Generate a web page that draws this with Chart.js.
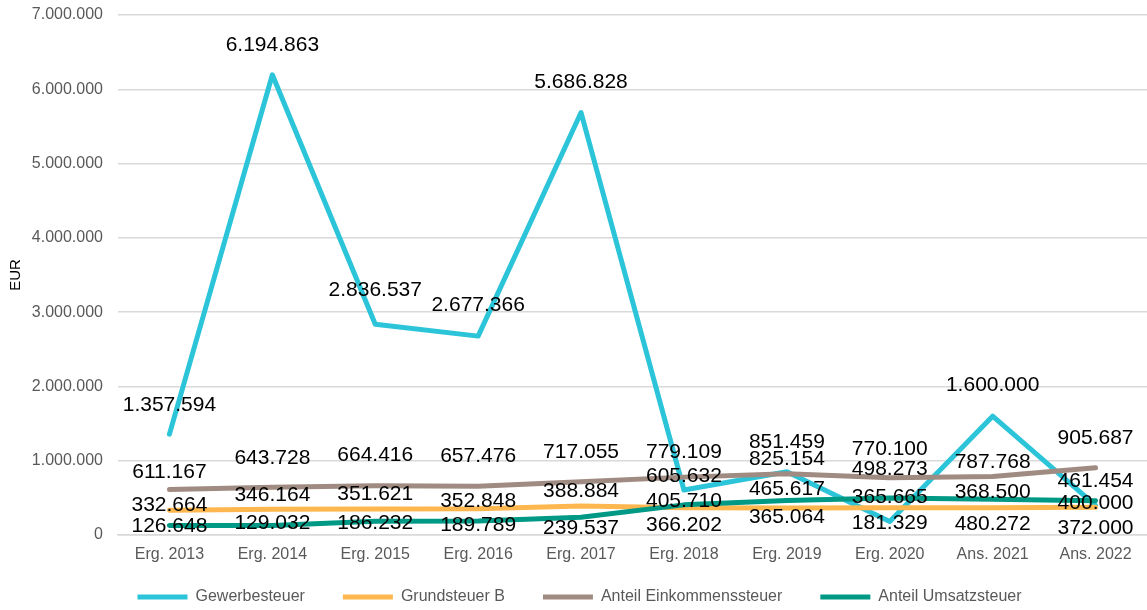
<!DOCTYPE html>
<html><head><meta charset="utf-8">
<script src="https://cdn.jsdelivr.net/npm/chart.js@4.4.0/dist/chart.umd.min.js"></script>
<style>html,body{margin:0;padding:0;background:#fff;overflow:hidden}#wrap{width:1147px;height:610px;position:relative}</style>
</head><body><div id="wrap"><canvas id="c"></canvas></div>
<script>
const categories = ['Erg. 2013','Erg. 2014','Erg. 2015','Erg. 2016','Erg. 2017','Erg. 2018','Erg. 2019','Erg. 2020','Ans. 2021','Ans. 2022'];
const gewerbesteuer   = [1357594, 6194863, 2836537, 2677366, 5686828, 605632, 851459, 181329, 1600000, 400000];
const grundsteuerB    = [332664, 346164, 351621, 352848, 388884, 366202, 365064, 365665, 368500, 372000];
const einkommensteuer = [611167, 643728, 664416, 657476, 717055, 779109, 825154, 770100, 787768, 905687];
const umsatzsteuer    = [126648, 129032, 186232, 189789, 239537, 405710, 465617, 498273, 480272, 461454];
const yTicks = [0, 1000000, 2000000, 3000000, 4000000, 5000000, 6000000, 7000000];

// label placement (pixel shift of each value label relative to its point)
const shiftGewerbe = [-29, -30, -34, -31, -30, -14, -30, 2, -31, -2];
const shiftGrund   = [-5, -14, -15, -8, -15, 17, 9, -11, -15, 21];
const shiftEink    = [-17, -29, -30, -30, -30, -25, -14, -29, -14, -30];
const shiftUmsatz  = [1, -2, 2, 4, 11, -4, -11, -29, 25, -20];

const fmt = v => String(Math.round(v)).replace(/\B(?=(\d{3})+(?!\d))/g, '.');
const FONT = '"Liberation Sans", Arial, sans-serif';
const LEGEND_PAD = 38;

const valueLabels = {
  id: 'valueLabels',
  afterLayout(chart) {
    const lg = chart.legend;
    if (lg) {
      const dy = (597 - LEGEND_PAD - 8) - lg.top;
      lg.top += dy; lg.bottom += dy;
      lg.left += 6; lg.right += 6;
    }
  },
  afterDatasetsDraw(chart) {
    const ctx = chart.ctx;
    ctx.save();
    ctx.font = '21px ' + FONT;
    ctx.fillStyle = '#000000';
    ctx.textAlign = 'center';
    ctx.textBaseline = 'middle';
    chart.data.datasets.forEach((ds, i) => {
      const meta = chart.getDatasetMeta(i);
      meta.data.forEach((pt, j) => {
        ctx.fillText(fmt(ds.data[j]), pt.x, pt.y + ds.labelShift[j]);
      });
    });
    ctx.restore();
  }
};

function ds(label, data, color, order, shift) {
  return { label, data, borderColor: color, backgroundColor: color, borderWidth: 5,
    borderCapStyle: 'round', borderJoinStyle: 'round', pointRadius: 0, pointHoverRadius: 0,
    tension: 0, fill: false, order, labelShift: shift };
}

new Chart(document.getElementById('c'), {
  type: 'line',
  data: {
    labels: categories,
    datasets: [
      ds('Gewerbesteuer', gewerbesteuer, '#2BC4D8', 4, shiftGewerbe),
      ds('Grundsteuer B', grundsteuerB, '#FDB74E', 3, shiftGrund),
      ds('Anteil Einkommenssteuer', einkommensteuer, '#9F8B81', 2, shiftEink),
      ds('Anteil Umsatzsteuer', umsatzsteuer, '#009985', 1, shiftUmsatz)
    ]
  },
  options: {
    responsive: true, maintainAspectRatio: false, animation: false,
    layout: { padding: { top: 0, right: 0, bottom: -19, left: 0 } },
    plugins: {
      legend: {
        position: 'bottom',
        labels: {
          usePointStyle: true, pointStyle: 'line', pointStyleWidth: 50,
          font: { family: FONT, size: 16 }, color: '#595959', padding: LEGEND_PAD,
          sort: (a, b) => a.datasetIndex - b.datasetIndex
        }
      },
      tooltip: { enabled: false }
    },
    scales: {
      x: {
        offset: true,
        afterFit: s => { s.height = 30; },
        grid: { display: false, drawTicks: false },
        border: { display: true, color: '#D9D9D9', width: 1.5 },
        ticks: { font: { family: FONT, size: 16 }, color: '#595959', padding: 10, maxRotation: 0 }
      },
      y: {
        min: 0, max: 7000000,
        afterFit: s => { s.width = 118; s.paddingTop = 15; s.paddingBottom = 0; },
        afterBuildTicks: s => { s.ticks = yTicks.map(v => ({ value: v })); },
        grid: { color: '#D9D9D9', lineWidth: 1.5, drawTicks: false },
        border: { display: false },
        ticks: { font: { family: FONT, size: 16 }, color: '#595959', padding: 15, callback: v => fmt(v) },
        title: { display: true, text: 'EUR', font: { family: FONT, size: 15 }, color: '#000000', padding: { top: 7, bottom: 0 } }
      }
    }
  },
  plugins: [valueLabels]
});
</script></body></html>
